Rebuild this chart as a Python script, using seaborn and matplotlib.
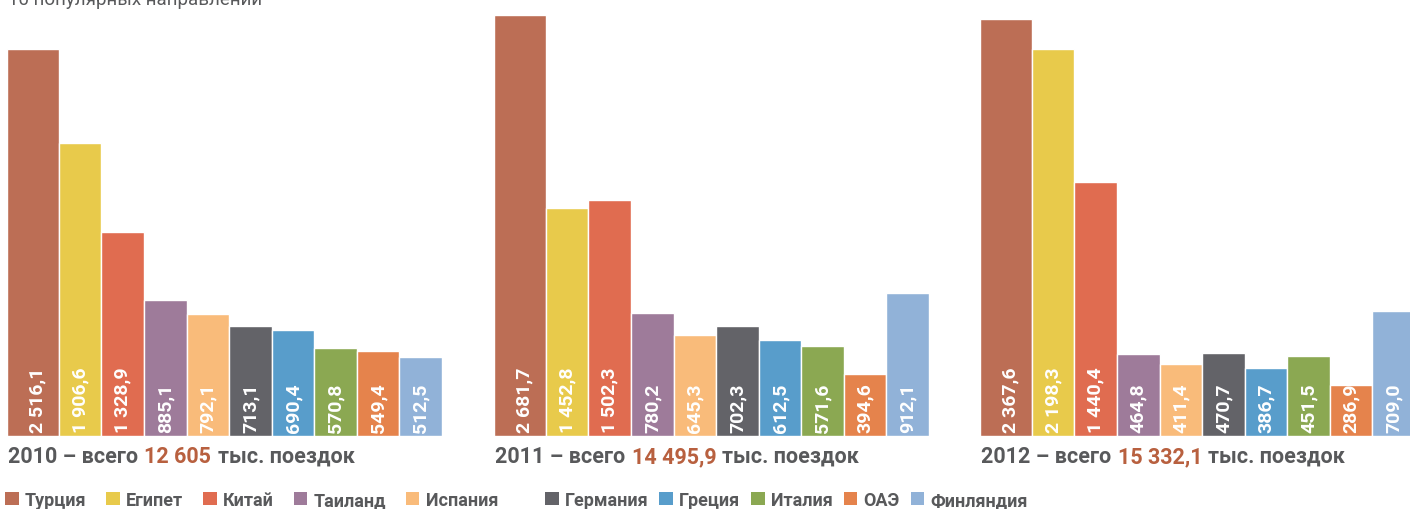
import numpy as np
import pandas as pd
import seaborn as sns
import matplotlib.pyplot as plt
from matplotlib.patches import Patch

# data
countries = ["Турция", "Египет", "Китай", "Таиланд", "Испания",
             "Германия", "Греция", "Италия", "ОАЭ", "Финляндия"]
years = [2010, 2011, 2012]
trips_2010 = [2516.1, 1906.6, 1328.9, 885.1, 792.1, 713.1, 690.4, 570.8, 549.4, 512.5]
trips_2011 = [2681.7, 1452.8, 1502.3, 780.2, 645.3, 702.3, 612.5, 571.6, 394.6, 912.1]
trips_2012 = [2367.6, 2198.3, 1440.4, 464.8, 411.4, 470.7, 386.7, 451.5, 286.9, 709.0]
totals = ["12 605", "14 495,9", "15 332,1"]

colors = ["#bc6e55", "#e8ca4b", "#e06c50", "#9e7b9a", "#f9bb7a",
          "#636368", "#589dcb", "#8ba852", "#e5834c", "#91b2d8"]
gray = "#58595b"
rust = "#b8603f"

sns.set_theme(style="white")
plt.rcParams["font.family"] = ["Roboto", "DejaVu Sans"]

df = pd.DataFrame({
    "year": np.repeat(years, len(countries)),
    "country": countries * len(years),
    "trips": trips_2010 + trips_2011 + trips_2012,
})

W, H = 1410, 510
fig = plt.figure(figsize=(W / 100, H / 100), dpi=100)

# each group keeps its own vertical scale, like the original infographic
lefts = [7, 494, 980]
tops = [2840, 2783, 2480]
for year, total, left, top in zip(years, totals, lefts, tops):
    ax = fig.add_axes([left / W, (H - 437) / H, 435 / W, 437 / H])
    sub = df[df["year"] == year]
    sns.barplot(data=sub, x="country", y="trips", hue="country",
                order=countries, hue_order=countries, palette=colors,
                saturation=1, width=1, legend=False, ax=ax)

    # first bar of each group is drawn a bit wider
    bars = sorted(ax.patches, key=lambda p: p.get_x())
    bars[0].set_x(-0.72)
    bars[0].set_width(1.22)
    ax.set_xlim(-0.72, 9.5)
    ax.set_ylim(0, top)
    ax.axis("off")

    for i, v in enumerate(sub["trips"]):
        lab = f"{v:,.1f}".replace(",", " ").replace(".", ",")
        ax.annotate(lab, xy=(i, 0), xytext=(0, 3), textcoords="offset points",
                    rotation=90, ha="center", va="bottom", color="white",
                    fontsize=14, fontweight="bold")

    # caption under the group
    t1 = fig.text((left + 1) / W, 1 - 457 / H, f"{year} – всего", va="center",
                  fontsize=15.5, fontweight="bold", color=gray)
    t2 = ax.annotate(total, xy=(1, 0.5), xycoords=t1, xytext=(4.5, 0),
                     textcoords="offset points", va="center",
                     fontsize=15.5, fontweight="bold", color=rust,
                     annotation_clip=False)
    ax.annotate("тыс. поездок", xy=(1, 0.5), xycoords=t2, xytext=(4.5, 0),
                textcoords="offset points", va="center",
                fontsize=15.5, fontweight="bold", color=gray,
                annotation_clip=False)

fig.text(8 / W, 1 - 5 / H, "10 популярных направлений", va="baseline",
         fontsize=13.5, color=gray)

# legend in two runs, as spaced in the original
handles = [Patch(facecolor=c, edgecolor="none") for c in colors]
for start, x0, spacing in [(0, 5, 1.1), (5, 545, 0.6)]:
    leg = fig.legend(handles[start:start + 5], countries[start:start + 5],
                     loc="center left", bbox_to_anchor=(x0 / W, 1 - 501 / H),
                     ncol=5, frameon=False, handlelength=0.75,
                     handleheight=0.75, handletextpad=0.35,
                     columnspacing=spacing, borderpad=0, borderaxespad=0,
                     prop=dict(weight="bold", size=13), labelcolor=gray)
    for txt in leg.get_texts():
        txt.set_fontweight("bold")

fig.savefig("out.png", dpi=100, facecolor="white")
